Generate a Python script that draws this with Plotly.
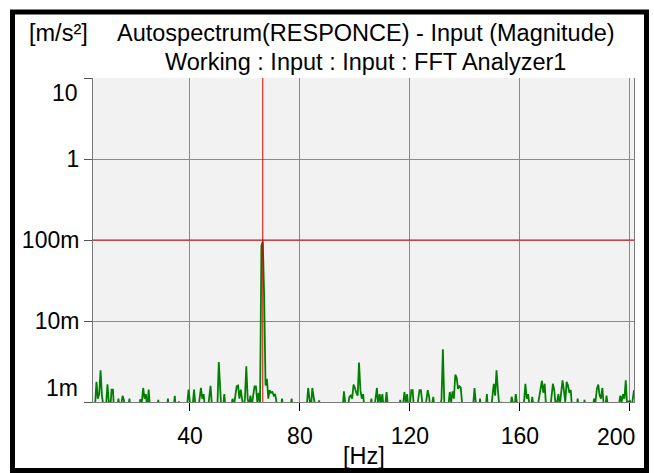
import plotly.graph_objects as go

# autospectrum magnitude, 0.5 Hz steps starting at 5 Hz, values in milli m/s^2
amp_5_45 = [
    0.8, 0.9, 1.77, 1.1, 1.25, 2.46, 1.2, 0.8, 0.7, 0.9, 1.65, 1.0, 0.8, 1.42, 1.42, 0.7, 0.6, 0.8, 1.1, 0.8,
    0.9, 1.19, 1.05, 0.7, 0.6, 0.8, 1.1, 0.7, 0.5, 0.6, 0.7, 0.5, 0.6, 0.9, 1.08, 1.0, 1.49, 1.1, 1.25, 0.8,
    1.42, 0.8, 0.6, 0.5, 0.7, 0.6, 0.8, 1.06, 0.7, 0.5, 0.6, 0.7, 0.5, 0.8, 1.1, 0.7, 0.6, 0.5, 0.8, 1.19,
    0.7, 0.6, 1.02, 0.6, 0.5, 0.6, 0.7, 0.6, 0.9, 1.42, 1.0, 0.7, 0.9, 1.42, 0.9, 0.7, 0.8, 1.2, 1.49, 1.1,
]
amp_45_85 = [
    1.25, 0.8, 0.7, 0.8, 1.1, 1.58, 0.9, 0.6, 0.5, 0.6, 0.9, 3.12, 1.0, 0.7, 0.8, 1.25, 0.8, 0.6, 0.5, 0.7,
    0.9, 1.1, 0.9, 1.2, 1.56, 1.6, 1.1, 1.42, 1.0, 0.8, 1.1, 2.76, 1.1, 0.9, 1.2, 0.9, 1.2, 1.56, 1.56, 1.0,
    1.3, 0.9, 85, 96, 20, 1.6, 1.93, 1.1, 1.4, 1.3, 1.33, 1.2, 1.25, 0.9, 0.7, 0.6, 0.8, 1.1, 0.8, 0.6,
    0.5, 0.6, 0.7, 0.8, 1.1, 0.7, 0.5, 0.6, 0.5, 0.6, 0.7, 0.6, 0.5, 0.6, 0.7, 0.9, 1.49, 1.0, 0.8, 1.49,
]
amp_85_125 = [
    1.1, 0.8, 0.7, 0.8, 1.05, 0.7, 0.5, 0.6, 0.5, 0.4, 0.5, 0.6, 0.5, 0.6, 0.5, 0.4, 0.5, 0.6, 0.7, 0.6,
    0.7, 0.8, 1.35, 0.8, 0.7, 0.9, 1.16, 1.2, 1.1, 1.64, 1.5, 1.3, 1.2, 3.06, 1.4, 1.1, 1.25, 0.8, 0.6, 0.5,
    0.6, 0.8, 1.1, 0.7, 0.8, 1.1, 1.49, 0.9, 1.25, 1.0, 1.25, 0.8, 0.9, 1.33, 0.8, 0.6, 0.5, 1.0, 0.7, 0.8,
    0.6, 0.7, 0.8, 1.06, 0.8, 0.9, 1.33, 1.0, 1.25, 0.8, 0.9, 1.4, 1.4, 0.8, 0.7, 0.8, 1.0, 1.4, 1.4, 0.9,
]
amp_125_165 = [
    0.7, 0.8, 1.0, 1.4, 1.15, 0.8, 0.9, 1.16, 0.8, 0.6, 0.5, 0.6, 0.8, 1.1, 4.47, 1.0, 0.7, 0.8, 0.9, 1.33,
    1.0, 1.35, 1.1, 2.17, 2.0, 1.45, 1.56, 1.5, 0.8, 0.6, 0.5, 0.6, 0.7, 0.6, 0.5, 0.7, 0.9, 1.49, 0.8, 0.6,
    0.7, 1.1, 0.8, 0.7, 0.6, 0.8, 1.25, 0.7, 0.6, 0.8, 1.1, 1.68, 1.2, 2.46, 1.4, 0.9, 1.0, 0.7, 0.6, 0.5,
    0.6, 0.5, 0.6, 0.8, 1.16, 0.9, 0.8, 1.25, 0.8, 0.6, 0.5, 0.7, 0.8, 1.0, 1.68, 1.1, 1.25, 0.9, 0.8, 1.16,
]
amp_165_202 = [
    0.8, 1.0, 0.7, 0.9, 1.1, 1.45, 1.82, 1.3, 1.68, 0.9, 0.7, 0.6, 0.8, 1.1, 1.68, 1.4, 0.9, 1.0, 1.25, 0.9,
    1.2, 1.85, 1.4, 1.0, 1.77, 1.6, 1.3, 1.4, 0.8, 0.6, 0.5, 0.7, 1.1, 0.8, 0.6, 0.5, 0.7, 1.06, 0.7, 0.5,
    0.6, 0.5, 0.7, 0.9, 1.1, 1.0, 1.45, 1.64, 1.2, 1.1, 1.49, 0.9, 0.8, 1.2, 0.8, 0.6, 0.5, 0.6, 0.5, 0.7,
    0.6, 0.8, 0.9, 1.2, 1.0, 1.25, 1.1, 1.85, 0.9, 1.0, 1.05, 0.8, 1.1, 1.4,
]
f_start = 5.0
f_step = 0.5

x_ticks = [40, 80, 120, 160, 200]
x_text = ["40", "80", "120", "160", ""]
y_ticks = [0.001, 0.01, 0.1, 1, 10]
y_text = ["", "10m", "100m", "1", ""]

ref_level = 0.1      # red horizontal line
cursor_hz = 66.5     # red cursor

amp_milli = amp_5_45 + amp_45_85 + amp_85_125 + amp_125_165 + amp_165_202
amp = [v / 1000 for v in amp_milli]

FONT = "Liberation Sans, Arial, sans-serif"

fig = go.Figure()
fig.add_trace(go.Scatter(x0=f_start, dx=f_step, y=amp, mode="lines",
                         line=dict(color="#008000", width=1.8), showlegend=False))

fig.add_hline(y=ref_level, line_color="#ff0000", line_width=1)
fig.add_vline(x=cursor_hz, line_color="#d00000", line_width=1)

fig.update_layout(
    width=654, height=473,
    margin=dict(l=93, r=20, t=78, b=71),
    paper_bgcolor="white", plot_bgcolor="#f2f2f2",
    font=dict(family=FONT, size=23, color="black"),
)
fig.update_xaxes(range=[4.75, 201.5], tickvals=x_ticks, ticktext=x_text,
                 ticks="outside", ticklen=8,
                 tickcolor="black", showgrid=True, gridcolor="#8a8a8a", gridwidth=1,
                 showline=True, linecolor="#7a7a7a", linewidth=1, zeroline=False,
                 ticklabelstandoff=5, automargin=False)
fig.update_yaxes(type="log", range=[-3, 1], tickvals=y_ticks, ticktext=y_text,
                 ticks="outside", ticklen=8, tickcolor="#555555",
                 showgrid=True, gridcolor="#8a8a8a", gridwidth=1, automargin=False,
                 showline=True, mirror=True, linecolor="#7a7a7a", linewidth=1, zeroline=False)

# end labels are pulled inside the axis span
fig.add_annotation(x=-0.024, y=0.954, xref="paper", yref="paper", text="10",
                   showarrow=False, xanchor="right", yanchor="middle")
fig.add_annotation(x=-0.024, y=0.043, xref="paper", yref="paper", text="1m",
                   showarrow=False, xanchor="right", yanchor="middle")
fig.add_annotation(x=1.0055, y=-0.108, xref="paper", yref="paper", text="200",
                   showarrow=False, xanchor="right", yanchor="middle")

title_font = dict(size=23.5)
fig.add_annotation(x=-0.122, y=1.139, xref="paper", yref="paper", text="[m/s²]",
                   showarrow=False, xanchor="left", yanchor="middle", font=title_font)
fig.add_annotation(x=0.5046, y=1.139, xref="paper", yref="paper",
                   text="Autospectrum(RESPONCE) - Input (Magnitude)",
                   showarrow=False, xanchor="center", yanchor="middle", font=title_font)
fig.add_annotation(x=0.5046, y=1.049, xref="paper", yref="paper",
                   text="Working : Input : Input : FFT Analyzer1",
                   showarrow=False, xanchor="center", yanchor="middle", font=title_font)
fig.add_annotation(x=0.501, y=-0.167, xref="paper", yref="paper", text="[Hz]",
                   showarrow=False, xanchor="center", yanchor="middle", font=title_font)

# outer frame
fig.add_shape(type="rect", xref="paper", yref="paper",
              x0=-0.1488, x1=1.0231, y0=-0.2114, y1=1.2037,
              line=dict(color="black", width=5), fillcolor="rgba(0,0,0,0)")

fig.write_html("out.html", config={"displayModeBar": False},
               post_script="document.body.style.margin='0';")
